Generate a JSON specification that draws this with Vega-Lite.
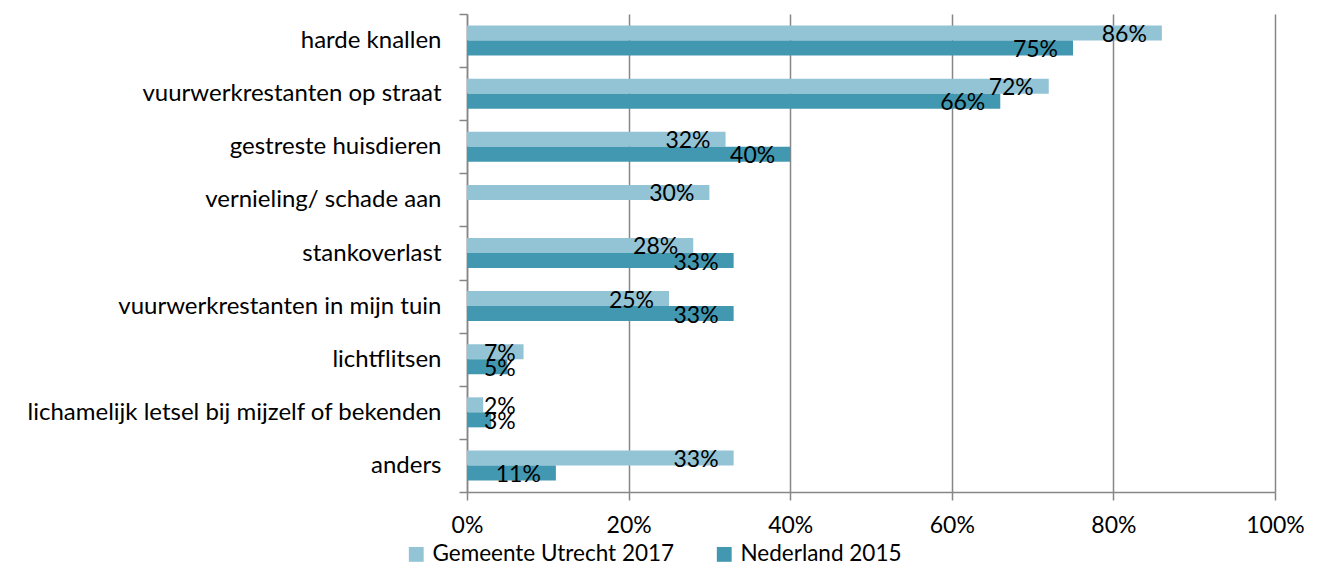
{
  "$schema": "https://vega.github.io/schema/vega-lite/v6.json",
  "width": 808,
  "height": 478,
  "autosize": "none",
  "padding": {"left": 467, "top": 14, "right": 47, "bottom": 76},
  "background": "white",
  "config": {
    "view": {"stroke": null},
    "font": "Lato",
    "axis": {"labelFont": "Lato", "labelColor": "#000000", "labelFontSize": 24, "labelLimit": 0}
  },
  "data": {
    "values": [
      {"category": "harde knallen", "series": "Gemeente Utrecht 2017", "value": 0.86},
      {"category": "harde knallen", "series": "Nederland 2015", "value": 0.75},
      {"category": "vuurwerkrestanten op straat", "series": "Gemeente Utrecht 2017", "value": 0.72},
      {"category": "vuurwerkrestanten op straat", "series": "Nederland 2015", "value": 0.66},
      {"category": "gestreste huisdieren", "series": "Gemeente Utrecht 2017", "value": 0.32},
      {"category": "gestreste huisdieren", "series": "Nederland 2015", "value": 0.40},
      {"category": "vernieling/ schade aan", "series": "Gemeente Utrecht 2017", "value": 0.30},
      {"category": "stankoverlast", "series": "Gemeente Utrecht 2017", "value": 0.28},
      {"category": "stankoverlast", "series": "Nederland 2015", "value": 0.33},
      {"category": "vuurwerkrestanten in mijn tuin", "series": "Gemeente Utrecht 2017", "value": 0.25},
      {"category": "vuurwerkrestanten in mijn tuin", "series": "Nederland 2015", "value": 0.33},
      {"category": "lichtflitsen", "series": "Gemeente Utrecht 2017", "value": 0.07},
      {"category": "lichtflitsen", "series": "Nederland 2015", "value": 0.05},
      {"category": "lichamelijk letsel bij mijzelf of bekenden", "series": "Gemeente Utrecht 2017", "value": 0.02},
      {"category": "lichamelijk letsel bij mijzelf of bekenden", "series": "Nederland 2015", "value": 0.03},
      {"category": "anders", "series": "Gemeente Utrecht 2017", "value": 0.33},
      {"category": "anders", "series": "Nederland 2015", "value": 0.11}
    ]
  },
  "encoding": {
    "y": {
      "field": "category",
      "type": "nominal",
      "sort": null,
      "title": null,
      "scale": {"paddingInner": 0, "paddingOuter": 0},
      "axis": {
        "domainColor": "#868686",
        "domainWidth": 1.5,
        "tickColor": "#868686",
        "tickWidth": 1.5,
        "tickSize": 8,
        "tickBand": "extent",
        "labelPadding": 18,
        "grid": false
      }
    },
    "yOffset": {
      "field": "series",
      "type": "nominal",
      "sort": ["Gemeente Utrecht 2017", "Nederland 2015"],
      "scale": {"paddingInner": 0, "paddingOuter": 0.77}
    },
    "x": {
      "field": "value",
      "type": "quantitative",
      "title": null,
      "scale": {"domain": [0, 1], "nice": false},
      "axis": {
        "format": ".0%",
        "values": [0, 0.2, 0.4, 0.6, 0.8, 1],
        "grid": true,
        "gridColor": "#868686",
        "gridWidth": 1.5,
        "domainColor": "#868686",
        "domainWidth": 1.5,
        "tickColor": "#868686",
        "tickWidth": 1.5,
        "tickSize": 8,
        "labelFlush": false,
        "labelFontSize": 23,
        "labelPadding": 14
      }
    }
  },
  "layer": [
    {
      "mark": {"type": "bar"},
      "encoding": {
        "color": {
          "field": "series",
          "type": "nominal",
          "sort": ["Gemeente Utrecht 2017", "Nederland 2015"],
          "scale": {"domain": ["Gemeente Utrecht 2017", "Nederland 2015"], "range": ["#93C4D5", "#4298B0"]},
          "legend": {
            "title": null,
            "orient": "none",
            "direction": "horizontal",
            "legendX": -62,
            "legendY": 529,
            "symbolType": "square",
            "symbolSize": 220,
            "symbolStrokeWidth": 0,
            "labelFontSize": 22.5,
            "labelFont": "Lato",
            "labelColor": "#000000",
            "labelLimit": 0,
            "columnPadding": 38,
            "labelOffset": 5
          }
        }
      }
    },
    {
      "transform": [{"filter": "datum.value >= 0.1"}],
      "mark": {"type": "text", "align": "right", "baseline": "middle", "dx": -15, "dy": 2, "fontSize": 23, "font": "Lato", "color": "#000000"},
      "encoding": {
        "text": {"field": "value", "type": "quantitative", "format": ".0%"}
      }
    },
    {
      "transform": [{"filter": "datum.value < 0.1"}],
      "mark": {"type": "text", "align": "left", "baseline": "middle", "dx": 17, "dy": 2, "fontSize": 23, "font": "Lato", "color": "#000000"},
      "encoding": {
        "x": {"datum": 0},
        "text": {"field": "value", "type": "quantitative", "format": ".0%"}
      }
    }
  ]
}
